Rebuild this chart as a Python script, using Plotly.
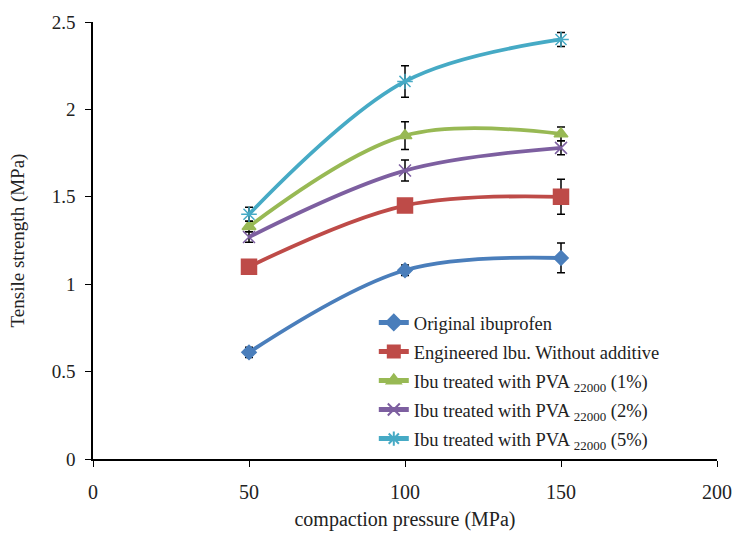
import plotly.graph_objects as go

pressure = [50, 100, 150]
names = [
    "Original ibuprofen",
    "Engineered lbu. Without additive",
    "Ibu treated with PVA <sub>22000</sub> (1%)",
    "Ibu treated with PVA <sub>22000</sub> (2%)",
    "Ibu treated with PVA <sub>22000</sub> (5%)",
]
original = [0.61, 1.08, 1.15]
original_err = [0.03, 0.03, 0.085]
engineered = [1.10, 1.45, 1.50]
engineered_err = [0.0, 0.0, 0.10]
pva1 = [1.33, 1.85, 1.86]
pva1_err = [0.03, 0.08, 0.04]
pva2 = [1.27, 1.65, 1.78]
pva2_err = [0.03, 0.06, 0.04]
pva5 = [1.40, 2.16, 2.40]
pva5_err = [0.04, 0.09, 0.04]

series = [original, engineered, pva1, pva2, pva5]
errors = [original_err, engineered_err, pva1_err, pva2_err, pva5_err]
colors = ["#4a7ebb", "#be4b48", "#98b954", "#7d5fa0", "#46aac5"]
symbols = ["diamond", "square", "triangle-up", "x-thin", "asterisk"]
sizes = [11, 15, 12, 12, 13]

fig = go.Figure()
for i, (n, y, e, c, s, sz) in enumerate(zip(names, series, errors, colors, symbols, sizes)):
    fig.add_trace(go.Scatter(
        x=pressure, y=y, name=n, mode="lines+markers", legendgroup=f"g{i}",
        line=dict(color=c, width=3.8, shape="spline", smoothing=1),
        marker=dict(symbol=s, size=sz, color=c, line=dict(color=c, width=1.5)),
        error_y=dict(type="data", array=e, color="black", thickness=1.5, width=4, visible=True),
    ))

font = "Liberation Serif, Times New Roman, serif"
fig.update_layout(
    width=736, height=533,
    margin=dict(l=93, r=19, t=22, b=74),
    paper_bgcolor="white", plot_bgcolor="white",
    font=dict(family=font, size=20, color="#222"),
    xaxis=dict(range=[0, 200], tickvals=[0, 50, 100, 150, 200], showgrid=False, zeroline=False,
               automargin=False,
               showline=True, linecolor="black", linewidth=1.5, ticks="outside", ticklen=6,
               tickcolor="black", tickfont=dict(size=20), ticklabelstandoff=8,
               title=dict(text="compaction pressure (MPa)", font=dict(size=20), standoff=10)),
    yaxis=dict(range=[0, 2.5], tickvals=[0, 0.5, 1, 1.5, 2, 2.5], ticktext=["0", "0.5", "1", "1.5", "2", "2.5"],
               automargin=False,
               showgrid=False, zeroline=False, showline=True, linecolor="black", linewidth=1.5,
               ticks="outside", ticklen=6, tickcolor="black", tickfont=dict(size=19), ticklabelstandoff=6,
               title=dict(text="Tensile strength (MPa)", font=dict(size=19), standoff=22)),
    legend=dict(x=0.45, y=0.355, xanchor="left", yanchor="top", bgcolor="rgba(0,0,0,0)",
                font=dict(size=18.5, family=font), tracegroupgap=2, itemsizing="constant"),
    showlegend=True,
)
fig.write_html("out.html", config={"displayModeBar": False},
               post_script="document.body.style.margin='0px';")
